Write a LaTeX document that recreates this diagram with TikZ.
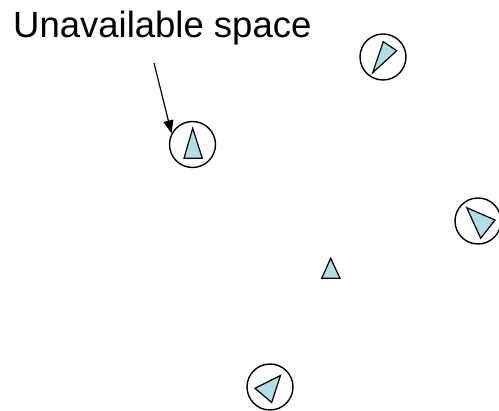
\documentclass[tikz,border=0pt]{standalone}
\usepackage{fontspec}
\setmainfont{Liberation Sans}
\usetikzlibrary{arrows.meta}
\definecolor{tri}{RGB}{178,221,231}
\begin{document}
\begin{tikzpicture}[x=1pt,y=-1pt,
  ring/.style={draw=black,circle,line width=1.4pt,minimum size=46pt,inner sep=0pt},
  wedge/.style={draw=black,fill=tri,line width=1.2pt,line join=miter},
  pointer/.style={draw=black,line width=1.2pt,-{Triangle[length=13pt,width=10pt]}}]
\useasboundingbox (0,0) rectangle (499,411);
\node[anchor=base west,font=\fontsize{36.5pt}{40pt}\selectfont,inner sep=0pt] (lbl) at (13,38) {Unavailable space};
% circles
\node[ring] (c1) at (383,57) {};
\node[ring] (c2) at (192.5,144.5) {};
\node[ring] (c3) at (478,221) {};
\node[ring] (c5) at (270,387) {};
% triangles
\draw[wedge] (383.3,41.7) -- (396.7,50.7) -- (372.7,72.7) -- cycle;
\draw[wedge] (192.7,128.3) -- (202.3,158.3) -- (184,158.3) -- cycle;
\draw[wedge] (466.7,207.7) -- (495,220) -- (480.7,238.3) -- cycle;
\draw[wedge] (330.7,258.3) -- (340,278.3) -- (321.7,278.3) -- cycle;
\draw[wedge] (280.5,375.5) -- (271.7,402.5) -- (255,388.3) -- cycle;
% arrow
\coordinate (astart) at (154,63);
\draw[pointer] (astart) -- (c2.152);
\end{tikzpicture}
\end{document}
